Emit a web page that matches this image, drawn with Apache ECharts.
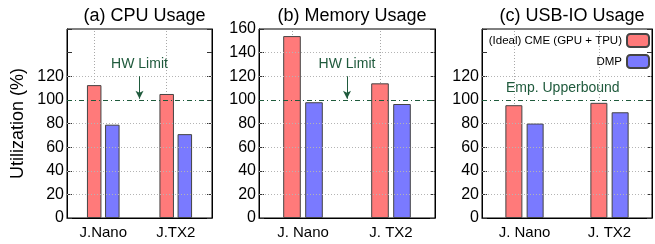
<!DOCTYPE html>
<html>
<head>
<meta charset="utf-8">
<script src="https://cdn.jsdelivr.net/npm/echarts@6/dist/echarts.min.js"></script>
<style>
  html, body { margin: 0; padding: 0; background: #fff; }
  #main { width: 655px; height: 244px; }
</style>
</head>
<body>
<div id="main"></div>
<script>
// 数据
var titles = ['(a) CPU Usage', '(b) Memory Usage', '(c) USB-IO Usage'];
var cpuCats = ['J.Nano', 'J.TX2'];
var devCats = ['J. Nano', 'J. TX2'];
var seriesNames = ['(Ideal) CME (GPU + TPU)', 'DMP'];
var cpuCme = [112.5, 105];
var cpuDmp = [79, 71];
var memCme = [154, 114];
var memDmp = [98, 96.5];
var usbCme = [95.5, 97.5];
var usbDmp = [80, 89.5];
var limitValue = 100;
var gridA = [20, 40, 60, 80, 120];
var gridB = [20, 40, 60, 80, 120, 140];
var notes = ['HW Limit', 'HW Limit', 'Emp. Upperbound'];

var chart = echarts.init(document.getElementById('main'));

var FONT = 'Liberation Sans';
var red = '#ff7a7a', blue = '#7a7aff';
var green = '#1f5a3c';
var gridColor = '#b4b4b4';

var grids = [
  { left: 67, top: 29, width: 145, height: 189 },
  { left: 259, top: 29, width: 176, height: 189 },
  { left: 482, top: 29, width: 170, height: 189 }
];
var cats = [cpuCats, devCats, devCats];
var cme = [cpuCme, memCme, usbCme];
var dmp = [cpuDmp, memDmp, usbDmp];
var hLines = [gridA, gridB, gridA];
var maxLabel = [120, 160, 120];

var option = {
  animation: false,
  textStyle: { fontFamily: FONT },
  title: [],
  legend: {
    data: seriesNames,
    orient: 'vertical',
    right: 5,
    top: 33,
    padding: 0,
    align: 'right',
    itemWidth: 22,
    itemHeight: 13,
    itemGap: 6,
    textStyle: { fontFamily: FONT, fontSize: 11.5, color: '#000' }
  },
  grid: [],
  xAxis: [],
  yAxis: [],
  series: []
};

grids.forEach(function (g, i) {
  option.title.push({
    text: titles[i],
    left: g.left + g.width / 2,
    top: 2,
    textAlign: 'center',
    textStyle: { fontFamily: FONT, fontSize: 18, fontWeight: 'normal', color: '#000' }
  });
  option.grid.push({
    left: g.left, top: g.top, width: g.width, height: g.height,
    show: true, borderColor: '#000', borderWidth: 1, backgroundColor: 'transparent'
  });
  // 类目轴
  option.xAxis.push({
    type: 'category',
    gridIndex: i,
    data: cats[i],
    axisLine: { onZero: false, lineStyle: { color: '#000' } },
    axisTick: { inside: true, alignWithLabel: true, length: 6, lineStyle: { color: '#777' } },
    axisLabel: { fontFamily: FONT, fontSize: 15, color: '#000', margin: 7 },
    splitLine: { show: false }
  });
  // 辅助数值轴, 用来画参考线和箭头
  option.xAxis.push({
    type: 'value',
    gridIndex: i,
    min: -0.5,
    max: 1.5,
    show: false
  });
  option.yAxis.push({
    type: 'value',
    gridIndex: i,
    min: 0,
    max: 160,
    interval: 20,
    name: i === 0 ? 'Utilization (%)' : '',
    nameLocation: 'middle',
    nameGap: 40,
    nameTextStyle: { fontFamily: FONT, fontSize: 18, color: '#000' },
    axisLine: { show: true, onZero: false, lineStyle: { color: '#000' } },
    axisTick: { show: true, inside: true, length: 5, lineStyle: { color: '#333' } },
    axisLabel: {
      fontFamily: FONT, fontSize: 16, color: '#000', margin: 3,
      formatter: (function (m) { return function (v) { return v > m ? '' : v; }; })(maxLabel[i])
    },
    splitLine: { show: false }
  });
  option.yAxis.push({
    type: 'value',
    gridIndex: i,
    position: 'right',
    min: 0,
    max: 160,
    interval: 20,
    axisLine: { show: true, onZero: false, lineStyle: { color: '#000' } },
    axisTick: { show: true, inside: true, length: 5, lineStyle: { color: '#333' } },
    axisLabel: { show: false },
    splitLine: { show: false }
  });

  var xi = i * 2, yi = i * 2;
  var lineData = [];
  hLines[i].forEach(function (v) {
    lineData.push({ yAxis: v, lineStyle: { color: gridColor, type: [1, 2], width: 1 } });
  });
  lineData.push({ yAxis: limitValue, lineStyle: { color: green, type: [5, 3, 1, 3], width: 1 } });
  var points = [];
  if (i < 2) {
    lineData.push([
      { coord: [0.5, 120], symbol: 'none', lineStyle: { color: green, type: 'solid', width: 1 } },
      { coord: [0.5, 101], symbol: 'arrow', symbolSize: [6, 8] }
    ]);
    points.push({ coord: [0.5, 130], value: notes[i] });
  } else {
    points.push({ coord: [0.45, 110], value: notes[i] });
  }

  option.series.push({
    type: 'line',
    xAxisIndex: xi + 1,
    yAxisIndex: yi,
    data: [],
    silent: true,
    z: 1,
    markLine: {
      silent: true,
      symbol: 'none',
      label: { show: false },
      animation: false,
      data: lineData
    },
    markPoint: {
      silent: true,
      symbol: 'circle',
      symbolSize: 0,
      label: {
        show: true,
        position: 'inside',
        fontFamily: FONT,
        fontSize: 14,
        color: green,
        formatter: function (p) { return p.value; }
      },
      data: points
    }
  });

  [cme[i], dmp[i]].forEach(function (vals, k) {
    var s = {
      name: seriesNames[k],
      type: 'bar',
      xAxisIndex: xi,
      yAxisIndex: yi,
      data: vals,
      barWidth: '20%',
      barGap: '25%',
      z: 3,
      itemStyle: { color: k === 0 ? red : blue, borderColor: '#444', borderWidth: 1 }
    };
    if (k === 0) {
      // 竖向网格线 (类目中心)
      s.markLine = {
        silent: true,
        symbol: 'none',
        label: { show: false },
        animation: false,
        z: 1,
        lineStyle: { color: '#a8a8a8', type: [1, 2], width: 1 },
        data: cats[i].map(function (c) { return { xAxis: c }; })
      };
    }
    option.series.push(s);
  });
});

chart.setOption(option);
</script>
</body>
</html>
